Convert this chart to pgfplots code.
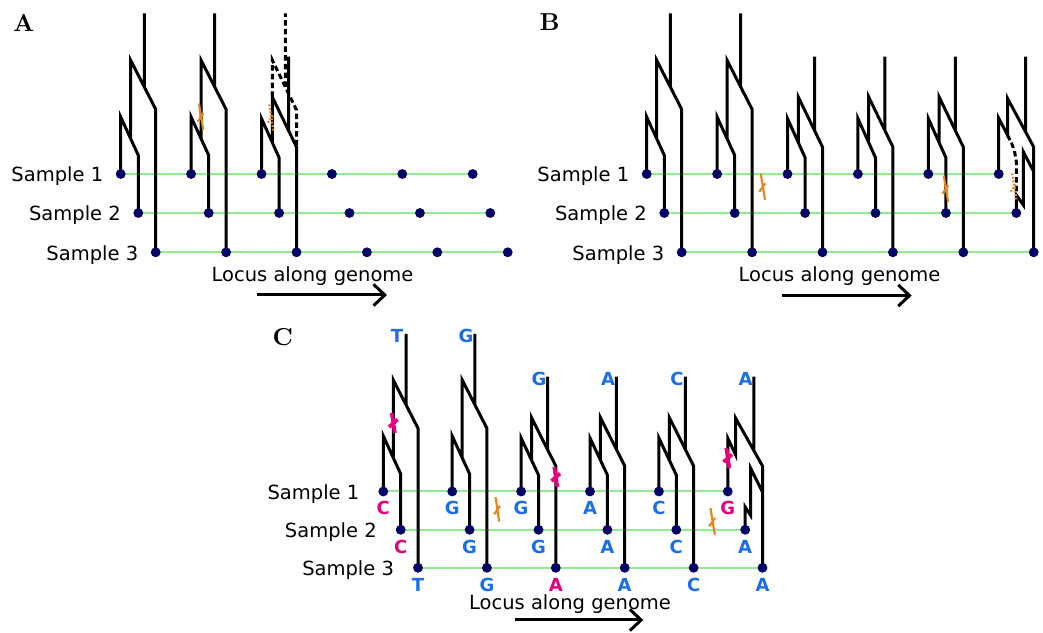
\documentclass[border=0pt]{standalone}
\usepackage{pgfplots}
\pgfplotsset{compat=1.18}
\usetikzlibrary{arrows.meta}
\usepackage{fontspec}
\newfontfamily\dv{DejaVu Sans}
\definecolor{lgreen}{RGB}{144,238,144}
\definecolor{dnavy}{RGB}{0,0,102}
\definecolor{morange}{RGB}{232,132,30}
\definecolor{mmag}{RGB}{230,0,126}
\definecolor{mblue}{RGB}{26,111,232}
\begin{document}
\begin{tikzpicture}[
  lab/.style={font=\dv\fontsize{7.8}{9}\selectfont, inner sep=0pt, anchor=base east},
  loc/.style={font=\dv\fontsize{7.8}{9}\selectfont, inner sep=0pt, anchor=base},
  nb/.style={font=\dv\bfseries\fontsize{7.2}{8}\selectfont, inner sep=0pt, text=mblue},
  nm/.style={font=\dv\bfseries\fontsize{7.2}{8}\selectfont, inner sep=0pt, text=mmag},
  pan/.style={font=\bfseries\fontsize{9.8}{11}\selectfont, inner sep=0pt},
]
\begin{axis}[
  width=417.2pt, height=250.4pt, scale only axis,
  xmin=0, xmax=1043, ymin=0, ymax=626, y dir=reverse,
  hide axis, clip=false, unbounded coords=jump,
]
% frame of the picture (bounding box only)
\path (axis cs:0,0) rectangle (axis cs:1043,626);
% sample lines
\addplot[lgreen, line width=0.8pt] coordinates {
 (120.7,174)(472.7,174) (nan,nan) (138.3,213)(490.3,213) (nan,nan) (155.7,252.3)(507.7,252.3) (nan,nan)
 (646.7,174)(998.7,174) (nan,nan) (664.3,213)(1016.3,213) (nan,nan) (681.7,252.3)(1033.7,252.3) (nan,nan)
 (383.3,491.5)(727.8,491.5) (nan,nan) (400.7,529.8)(745.2,529.8) (nan,nan) (418,567.8)(762.5,567.8)
};
% genealogies, solid
\addplot[black, line width=1.2pt] coordinates {
 (120.7,174)(120.7,117)(138.3,155.3)(138.3,213) (nan,nan)
 (130.7,138.8)(130.7,60.3)(155.7,109.3)(155.7,252.3) (nan,nan)
 (144.3,87)(144.3,13.3) (nan,nan)
 (191.1,174)(191.1,117)(208.7,155.3)(208.7,213) (nan,nan)
 (201.1,138.8)(201.1,60.3)(226.1,109.3)(226.1,252.3) (nan,nan)
 (214.7,87)(214.7,13.3) (nan,nan)
 (261.5,174)(261.5,118.5)(279.1,157.7)(279.1,213) (nan,nan)
 (272.3,142.5)(272.3,97)(296.5,147)(296.5,252.3) (nan,nan)
 (288.5,130.5)(288.5,56.7) (nan,nan)
 (646.7,174)(646.7,117)(664.3,155.3)(664.3,213) (nan,nan)
 (656.7,138.8)(656.7,60.3)(681.7,109.3)(681.7,252.3) (nan,nan)
 (670.3,87)(670.3,13.3) (nan,nan)
 (717.1,174)(717.1,117)(734.7,155.3)(734.7,213) (nan,nan)
 (727.1,138.8)(727.1,60.3)(752.1,109.3)(752.1,252.3) (nan,nan)
 (740.7,87)(740.7,13.3) (nan,nan)
 (787.5,174)(787.5,118.5)(805.1,157.7)(805.1,213) (nan,nan)
 (798.3,142.5)(798.3,97)(822.5,147)(822.5,252.3) (nan,nan)
 (814.5,130.5)(814.5,56.7) (nan,nan)
 (857.9,174)(857.9,118.5)(875.5,157.7)(875.5,213) (nan,nan)
 (868.7,142.5)(868.7,97)(892.9,147)(892.9,252.3) (nan,nan)
 (884.9,130.5)(884.9,56.7) (nan,nan)
 (928.3,174)(928.3,118.5)(945.9,157.7)(945.9,213) (nan,nan)
 (939.1,142.5)(939.1,97)(963.3,147)(963.3,252.3) (nan,nan)
 (955.3,130.5)(955.3,56.7) (nan,nan)
 (998.7,174)(998.7,118.3)(1007.5,135)(1007.5,98.3)(1033.7,147)(1033.7,252.3) (nan,nan)
 (1025.7,132.1)(1025.7,56.7) (nan,nan)
 (1016.3,213)(1016.3,195)(1023.3,205)(1023.3,151.7)(1033.7,171.7) (nan,nan)
 (383.3,491.5)(383.3,436)(400.7,474)(400.7,529.8) (nan,nan)
 (393.3,457.8)(393.3,380)(418,428.3)(418,567.8) (nan,nan)
 (406,404.8)(406,334) (nan,nan)
 (452.2,491.5)(452.2,436)(469.6,474)(469.6,529.8) (nan,nan)
 (462.2,457.8)(462.2,380)(486.9,428.3)(486.9,567.8) (nan,nan)
 (474.9,404.8)(474.9,334) (nan,nan)
 (521.1,491.5)(521.1,438)(538.5,475)(538.5,529.8) (nan,nan)
 (531.5,460.1)(531.5,417.5)(555.8,466)(555.8,567.8) (nan,nan)
 (547.5,449.4)(547.5,376.7) (nan,nan)
 (590,491.5)(590,438)(607.4,475)(607.4,529.8) (nan,nan)
 (600.4,460.1)(600.4,417.5)(624.7,466)(624.7,567.8) (nan,nan)
 (616.4,449.4)(616.4,376.7) (nan,nan)
 (658.9,491.5)(658.9,438)(676.3,475)(676.3,529.8) (nan,nan)
 (669.3,460.1)(669.3,417.5)(693.6,466)(693.6,567.8) (nan,nan)
 (685.3,449.4)(685.3,376.7) (nan,nan)
 (727.8,491.5)(727.8,438.3)(735.7,455)(735.7,418.3)(762.5,466)(762.5,567.8) (nan,nan)
 (753.8,450.5)(753.8,376.7) (nan,nan)
 (745.2,529.8)(745.2,507)(750.7,515.5)(750.7,468.5)(762.5,492)
};
% genealogies before recombination, dashed
\addplot[black, line width=1.2pt, dash pattern=on 2.2pt off 1.3pt] coordinates {
 (272.3,97)(272.3,60)(296.5,110)(296.5,147) (nan,nan)
 (285.3,86.9)(285.3,13.3) (nan,nan)
 (1007.5,135)(1011.5,143)(1014.5,151)(1016.3,162)(1016.3,195)
};
% recombination marks
\addplot[morange, line width=0.85pt] coordinates {
 (199,103.5)(203.3,130) (nan,nan) (197.6,121.7)(203.6,113.3) (nan,nan)
 (760.7,173.5)(765,200) (nan,nan) (759.3,191.7)(765.3,183.3) (nan,nan)
 (943.8,175.5)(948.1,202) (nan,nan) (942.4,193.7)(948.4,185.3) (nan,nan)
 (495.5,497)(499.2,521.5) (nan,nan) (494.1,514.2)(500.1,505.8) (nan,nan)
 (710.5,508.2)(714.8,534.7) (nan,nan) (709.1,526.4)(715.1,518)
};
\addplot[morange, line width=0.9pt, dash pattern=on 0.7pt off 0.7pt] coordinates {
 (269.2,104.5)(273.5,131) (nan,nan) (267.8,122.7)(273.8,114.3) (nan,nan)
 (1012.2,173.5)(1016.5,200) (nan,nan) (1010.8,191.7)(1016.8,183.3)
};
% mutations
\addplot[mmag, line width=1.5pt] coordinates {
 (391.8,413)(394.8,433) (nan,nan) (389,427)(397.5,419.5) (nan,nan)
 (554.3,467)(557.3,487) (nan,nan) (551.5,481)(560,473.5) (nan,nan)
 (726.3,448)(729.3,468) (nan,nan) (723.5,462)(732,454.5)
};
% samples
\addplot[only marks, mark=*, mark size=1.75pt, color=dnavy] coordinates {
 (120.7,174)(191.1,174)(261.5,174)(331.9,174)(402.3,174)(472.7,174)
 (138.3,213)(208.7,213)(279.1,213)(349.5,213)(419.9,213)(490.3,213)
 (155.7,252.3)(226.1,252.3)(296.5,252.3)(366.9,252.3)(437.3,252.3)(507.7,252.3)
 (646.7,174)(717.1,174)(787.5,174)(857.9,174)(928.3,174)(998.7,174)
 (664.3,213)(734.7,213)(805.1,213)(875.5,213)(945.9,213)(1016.3,213)
 (681.7,252.3)(752.1,252.3)(822.5,252.3)(892.9,252.3)(963.3,252.3)(1033.7,252.3)
 (383.3,491.5)(452.2,491.5)(521.1,491.5)(590,491.5)(658.9,491.5)(727.8,491.5)
 (400.7,529.8)(469.6,529.8)(538.5,529.8)(607.4,529.8)(676.3,529.8)(745.2,529.8)
 (418,567.8)(486.9,567.8)(555.8,567.8)(624.7,567.8)(693.6,567.8)(762.5,567.8)
};
% arrows
\addplot[black, line width=1.2pt, -{Straight Barb[length=4.5pt,width=8.5pt]}] coordinates {(257,295)(387,295)};
\addplot[black, line width=1.2pt, -{Straight Barb[length=4.5pt,width=8.5pt]}] coordinates {(781.7,295.5)(911.7,295.5)};
\addplot[black, line width=1.2pt, -{Straight Barb[length=4.5pt,width=8.5pt]}] coordinates {(515,620)(643.3,620)};
% text
\node[pan] at (axis cs:23.7,23.3) {A};
\node[pan] at (axis cs:549.7,22.5) {B};
\node[pan] at (axis cs:282.7,336.7) {C};
\node[lab] at (axis cs:103.7,182) {Sample 1};
\node[lab] at (axis cs:121.3,221) {Sample 2};
\node[lab] at (axis cs:138.7,260.3) {Sample 3};
\node[lab] at (axis cs:629.7,182) {Sample 1};
\node[lab] at (axis cs:647.3,221) {Sample 2};
\node[lab] at (axis cs:664.7,260.3) {Sample 3};
\node[lab] at (axis cs:359.8,499.5) {Sample 1};
\node[lab] at (axis cs:377.2,537.8) {Sample 2};
\node[lab] at (axis cs:394.5,575.8) {Sample 3};
\node[loc] at (axis cs:312.5,281.5) {Locus along genome};
\node[loc] at (axis cs:839.5,281.5) {Locus along genome};
\node[loc] at (axis cs:570,609.8) {Locus along genome};
% alleles, ancestral
\node[nb] at (axis cs:397,336) {T};
\node[nb] at (axis cs:466,336) {G};
\node[nb] at (axis cs:539,378.5) {G};
\node[nb] at (axis cs:608,378.5) {A};
\node[nb] at (axis cs:677,378.5) {C};
\node[nb] at (axis cs:745.5,378.5) {A};
% alleles, sample 1
\node[nm] at (axis cs:383.3,508.2) {C};
\node[nb] at (axis cs:452.2,508.2) {G};
\node[nb] at (axis cs:521.1,508.2) {G};
\node[nb] at (axis cs:590,508.2) {A};
\node[nb] at (axis cs:658.9,508.2) {C};
\node[nm] at (axis cs:727.8,508.2) {G};
% alleles, sample 2
\node[nm] at (axis cs:400.7,546.5) {C};
\node[nb] at (axis cs:469.6,546.5) {G};
\node[nb] at (axis cs:538.5,546.5) {G};
\node[nb] at (axis cs:607.4,546.5) {A};
\node[nb] at (axis cs:676.3,546.5) {C};
\node[nb] at (axis cs:745.2,546.5) {A};
% alleles, sample 3
\node[nb] at (axis cs:418,584.5) {T};
\node[nb] at (axis cs:486.9,584.5) {G};
\node[nm] at (axis cs:555.8,584.5) {A};
\node[nb] at (axis cs:624.7,584.5) {A};
\node[nb] at (axis cs:693.6,584.5) {C};
\node[nb] at (axis cs:762.5,584.5) {A};
\end{axis}
\end{tikzpicture}
\end{document}
